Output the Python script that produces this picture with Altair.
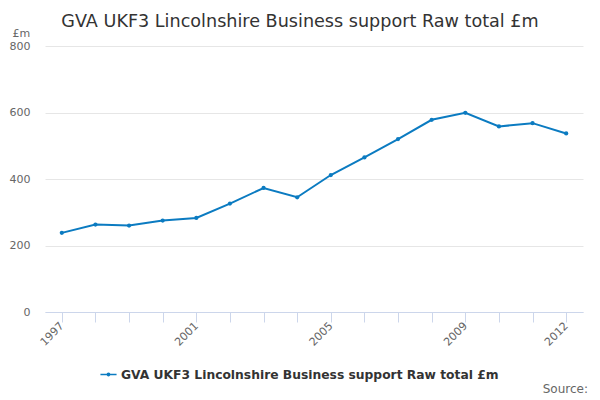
import altair as alt
import pandas as pd

years = list(range(1997, 2013))
values = [238, 263, 260, 275, 283, 326, 373, 345, 412, 465, 520, 578, 599, 558, 568, 537]
series_name = "GVA UKF3 Lincolnshire Business support Raw total £m"
label_years = ["1997", "2001", "2005", "2009", "2012"]

df = pd.DataFrame({"year": [str(y) for y in years], "value": values, "series": series_name})

FONT = "DejaVu Sans"
COLOR = "#0b7bc1"

symbol_path = ("M-1,-0.09L1,-0.09L1,0.09L-1,0.09Z "
               "M-0.24,0A0.24,0.24 0 1,1 0.24,0A0.24,0.24 0 1,1 -0.24,0Z")

base = alt.Chart(df)

label_list = "[" + ",".join("'%s'" % s for s in label_years) + "]"

x_enc = alt.X(
    "year:O",
    scale=alt.Scale(type="point", padding=0.5),
    axis=alt.Axis(
        labelExpr="indexof(%s, datum.label) >= 0 ? datum.label : ''" % label_list,
        labelAngle=-45,
        labelAlign="right",
        labelBaseline="middle",
        labelPadding=2,
        labelFont=FONT,
        labelFontSize=11,
        labelColor="#666666",
        labelOverlap=False,
        grid=False,
        tickColor="#ccd6eb",
        tickSize=10,
        domainColor="#ccd6eb",
        title=None,
    ),
)

y_enc = alt.Y(
    "value:Q",
    scale=alt.Scale(domain=[0, 800], nice=False),
    axis=alt.Axis(
        values=[0, 200, 400, 600, 800],
        grid=True,
        gridColor="#e6e6e6",
        domain=False,
        ticks=False,
        labelPadding=15,
        labelFont=FONT,
        labelFontSize=11,
        labelColor="#666666",
        title="£m",
        titleAngle=0,
        titleAlign="left",
        titleBaseline="alphabetic",
        titleX=-33,
        titleY=-10,
        titleFont=FONT,
        titleFontSize=11,
        titleFontWeight="normal",
        titleColor="#666666",
    ),
)

color_enc = alt.Color(
    "series:N",
    scale=alt.Scale(range=[COLOR]),
    legend=alt.Legend(
        title=None,
        orient="none",
        legendX=55,
        legendY=320,
        symbolType=symbol_path,
        symbolSize=260,
        symbolStrokeWidth=0,
        symbolFillColor=COLOR,
        symbolOpacity=1,
        labelFont=FONT,
        labelFontSize=12.3,
        labelFontWeight="bold",
        labelColor="#333333",
        labelLimit=600,
    ),
)

line = base.mark_line(strokeWidth=2).encode(x=x_enc, y=y_enc, color=color_enc)
points = base.mark_circle(size=18, opacity=1).encode(
    x="year:O", y="value:Q", color=alt.Color("series:N", legend=None)
)

source = alt.Chart(pd.DataFrame({"t": ["Source:"]})).mark_text(
    align="right", baseline="alphabetic", font=FONT, fontSize=12, color="#666666"
).encode(text="t:N", x=alt.value(543), y=alt.value(347))

chart = alt.layer(line, points, source).properties(
    width=538,
    height=266,
    autosize=alt.AutoSizeParams(type="none"),
    padding={"left": 37, "top": 38, "right": 9, "bottom": 88},
    title=alt.TitleParams(
        series_name,
        font=FONT,
        fontSize=17.6,
        fontWeight="normal",
        color="#333333",
        anchor="middle",
        frame="group",
        dx=-14,
        offset=-4,
    ),
).configure_view(stroke=None)

chart.save("out.html", embed_options={"renderer": "svg", "actions": False})
